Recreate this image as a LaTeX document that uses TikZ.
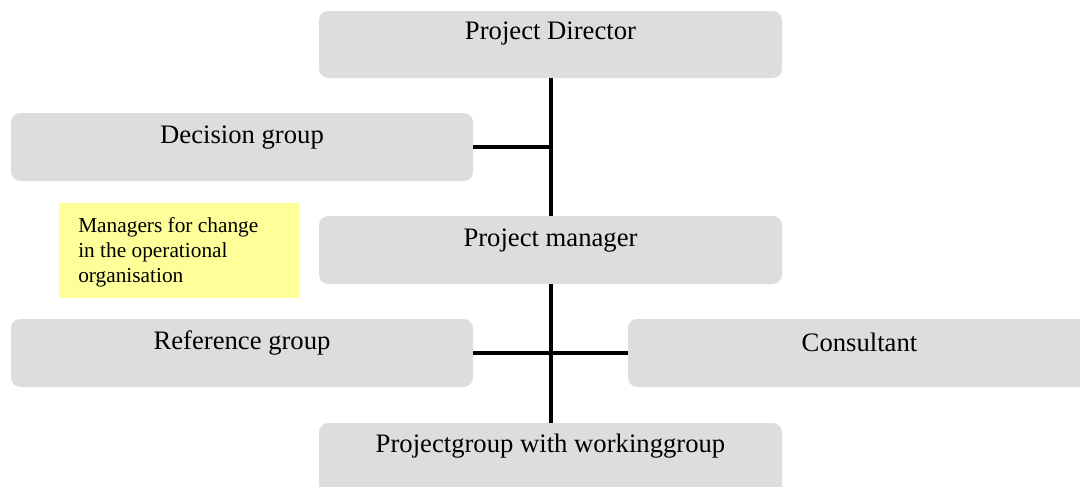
\documentclass[tikz,border=0pt]{standalone}
\usepackage{fontspec}
\setmainfont{Liberation Serif}
\usetikzlibrary{fit,calc}
\definecolor{boxgray}{HTML}{DDDDDD}
\definecolor{noteyellow}{HTML}{FFFF99}
\begin{document}
\begin{tikzpicture}[x=0.75pt,y=-0.75pt,
  box/.style={rectangle,rounded corners=7pt,fill=boxgray,draw=none,inner sep=0pt},
  note/.style={rectangle,fill=noteyellow,draw=none,inner sep=0pt},
  lbl/.style={font=\fontsize{20}{24}\selectfont,inner sep=0pt},
  notelbl/.style={font=\fontsize{16}{18.75}\selectfont,inner sep=0pt,align=left,anchor=west},
  conn/.style={line width=3pt}]
\useasboundingbox (0,0) rectangle (1080,486);
\clip (0,0) rectangle (1080,486);
\fill[white] (0,0) rectangle (1080,486);
% boxes
\node[box,fit={(319,11) (782,78)}] (dir) {};
\node[box,fit={(11,113) (473,181)}] (dec) {};
\node[note,fit={(59,203) (299,298)}] (mgr) {};
\node[box,fit={(319,216) (782,284)}] (pm) {};
\node[box,fit={(11,319) (473,387)}] (ref) {};
\node[box,fit={(628,319) (1091,387)}] (con) {};
\node[box,fit={(319,423) (782,500)}] (pg) {};
% labels
\node[lbl] (dirT) at ($(dir.north)+(0,23)$) {Project Director};
\node[lbl] (decT) at ($(dec.north)+(0,25)$) {Decision group};
\node[lbl] (pmT) at ($(pm.north)+(0,25)$) {Project manager};
\node[lbl] (refT) at ($(ref.north)+(0,24)$) {Reference group};
\node[lbl] (conT) at ($(con.north)+(0,24)$) {Consultant};
\node[lbl] (pgT) at ($(pg.north)+(0,23)$) {Projectgroup with workinggroup};
\node[notelbl] (mgrT) at (78,252) {Managers for change\\in the operational\\organisation};
% connectors
\draw[conn] (dir.south) -- (pm.north);
\draw[conn] (dec.east) -- (dec.east -| dir.south);
\draw[conn] (pm.south) -- (pg.north);
\draw[conn] (ref.east) -- (con.west);
\end{tikzpicture}
\end{document}
